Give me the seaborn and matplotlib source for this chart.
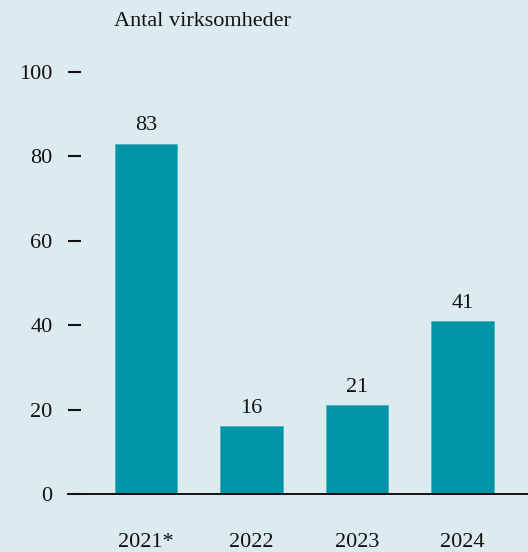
import matplotlib
matplotlib.use("Agg")
import matplotlib.pyplot as plt
import seaborn as sns
import pandas as pd

years = ["2021*", "2022", "2023", "2024"]
counts = [83, 16, 21, 41]
yticks = [0, 20, 40, 60, 80, 100]
title = "Antal virksomheder"

bg = "#dcebf0"
bar_color = "#0095a6"

sns.set_theme(style="white")
plt.rcParams["font.family"] = ["Liberation Serif", "DejaVu Serif"]

df = pd.DataFrame({"year": years, "count": counts})

fig = plt.figure(figsize=(5.28, 5.52), dpi=100, facecolor=bg)
ax = fig.add_axes([68 / 528, (552 - 494) / 552, 1 - 68 / 528, (494 - 72) / 552])
ax.set_facecolor(bg)

sns.barplot(data=df, x="year", y="count", color=bar_color, width=0.59,
            saturation=1, ax=ax, edgecolor="#4fb3c0", linewidth=0.6)

ax.set_xlim(-0.74, 3.62)
ax.set_ylim(0, 100)
ax.set_yticks(yticks)
ax.set_xlabel("")
ax.set_ylabel("")

for s in ["top", "right", "left"]:
    ax.spines[s].set_visible(False)
ax.spines["bottom"].set_color("#111111")
ax.spines["bottom"].set_linewidth(1.4)
ax.spines["bottom"].set_zorder(5)

ax.tick_params(axis="y", direction="in", length=9, width=1.5, color="#111111",
               pad=11, labelsize=16, labelcolor="#111111", left=True)
ax.tick_params(axis="x", length=0, pad=28, labelsize=16, labelcolor="#111111")

for c in ax.containers:
    ax.bar_label(c, labels=[str(v) for v in counts], padding=6, fontsize=16,
                 color="#111111")

fig.text(114 / 528, 1 - 21 / 552, title, ha="left", va="center", fontsize=16,
         color="#111111")

fig.savefig("out.png", dpi=100, facecolor=bg)
